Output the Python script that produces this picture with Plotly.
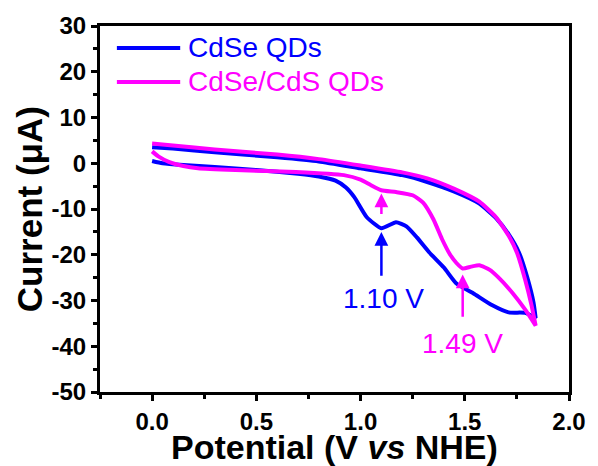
import plotly.graph_objects as go

# ---- data ----
cdse_fwd_v = [0.00, 0.05, 0.15, 0.30, 0.50, 0.70, 0.80, 0.88, 0.93, 0.97, 1.03, 1.10, 1.17, 1.22, 1.27, 1.33, 1.40, 1.46, 1.54, 1.63, 1.71, 1.79, 1.84]
cdse_fwd_i = [0.5, 0.0, -0.4, -0.8, -1.5, -2.3, -2.9, -3.8, -5.3, -7.4, -11.8, -14.2, -12.9, -13.8, -16.2, -19.5, -22.8, -26.3, -28.4, -31.0, -32.6, -32.7, -33.8]
cdse_rev_v = [1.84, 1.83, 1.80, 1.76, 1.71, 1.65, 1.57, 1.45, 1.32, 1.20, 1.00, 0.80, 0.60, 0.30, 0.10, 0.00]
cdse_rev_i = [-33.8, -30.5, -25.0, -19.5, -15.5, -12.0, -8.8, -6.2, -4.1, -2.6, -1.1, 0.4, 1.3, 2.4, 3.2, 3.5]

cdscds_fwd_v = [0.00, 0.03, 0.08, 0.15, 0.22, 0.40, 0.69, 0.92, 1.00, 1.05, 1.10, 1.17, 1.25, 1.30, 1.35, 1.39, 1.43, 1.46, 1.49, 1.53, 1.57, 1.62, 1.66, 1.73, 1.79, 1.84]
cdscds_fwd_i = [2.6, 1.5, 0.3, -0.6, -1.1, -1.5, -1.9, -2.6, -3.6, -4.8, -5.9, -6.3, -7.0, -8.6, -12.3, -16.5, -20.0, -21.8, -23.0, -22.6, -22.3, -23.3, -24.9, -28.4, -32.0, -35.5]
cdscds_rev_v = [1.84, 1.82, 1.79, 1.75, 1.71, 1.65, 1.57, 1.45, 1.32, 1.20, 1.00, 0.80, 0.60, 0.30, 0.10, 0.00]
cdscds_rev_i = [-35.5, -31.0, -25.5, -19.5, -15.8, -11.8, -8.4, -5.6, -3.3, -2.0, -0.5, 0.9, 1.9, 3.0, 3.9, 4.3]

series_names = ["CdSe QDs", "CdSe/CdS QDs"]
series_colors = ["#0000FF", "#FF00FF"]

peak_labels = ["1.10 V", "1.49 V"]
x_ticks = [0.0, 0.5, 1.0, 1.5, 2.0]
y_ticks = [-50, -40, -30, -20, -10, 0, 10, 20, 30]

FONT = "Liberation Sans, Arial, sans-serif"

fig = go.Figure()
fig.add_trace(go.Scatter(
    x=cdse_fwd_v + cdse_rev_v, y=cdse_fwd_i + cdse_rev_i,
    mode="lines", line=dict(color=series_colors[0], width=4, shape="spline", smoothing=0.5),
    name=series_names[0], showlegend=False))
fig.add_trace(go.Scatter(
    x=cdscds_fwd_v + cdscds_rev_v, y=cdscds_fwd_i + cdscds_rev_i,
    mode="lines", line=dict(color=series_colors[1], width=4, shape="spline", smoothing=0.5),
    name=series_names[1], showlegend=False))

# legend drawn manually (long line samples, coloured text)
legend_rows_y = [0.940, 0.847]
for name, col, ly in zip(series_names, series_colors, legend_rows_y):
    fig.add_shape(type="line", xref="paper", yref="paper", x0=0.036, x1=0.171, y0=ly, y1=ly,
                  line=dict(color=col, width=4))
    fig.add_annotation(x=0.184, y=ly, xref="paper", yref="paper", xanchor="left", yanchor="middle",
                       text=name, showarrow=False,
                       font=dict(family=FONT, size=28, color=col))

# arrows
arrows = [
    (1.10, -15.0, -24.9, series_colors[0]),
    (1.10, -6.6, -11.4, series_colors[1]),
    (1.49, -24.3, -33.9, series_colors[1]),
]
for xv, tip, tail, col in arrows:
    fig.add_annotation(x=xv, y=tip, ax=xv, ay=tail, xref="x", yref="y", axref="x", ayref="y",
                       text="", showarrow=True, arrowhead=2, arrowsize=1.1, arrowwidth=2.5,
                       arrowcolor=col)

fig.add_annotation(x=1.11, y=-29.6, text=peak_labels[0], showarrow=False,
                   xanchor="center", yanchor="middle",
                   font=dict(family=FONT, size=28, color=series_colors[0]))
fig.add_annotation(x=1.49, y=-39.3, text=peak_labels[1], showarrow=False,
                   xanchor="center", yanchor="middle",
                   font=dict(family=FONT, size=28, color=series_colors[1]))

# axis titles
fig.add_annotation(x=-0.151, y=0.5, xref="paper", yref="paper", text="<b>Current (μA)</b>",
                   textangle=-90, showarrow=False, xanchor="center", yanchor="middle",
                   font=dict(family=FONT, size=35, color="black"))
fig.add_annotation(x=0.5, y=-0.150, xref="paper", yref="paper",
                   text="<b>Potential (V <i>vs</i> NHE)</b>", showarrow=False,
                   xanchor="center", yanchor="middle", borderpad=0,
                   font=dict(family=FONT, size=34, color="black"))

axis_common = dict(showline=True, linecolor="black", linewidth=3, mirror=True,
                   ticks="outside", ticklen=6, tickwidth=3, tickcolor="black",
                   showgrid=False, zeroline=False,
                   tickfont=dict(family=FONT, size=24, color="black"))

fig.update_xaxes(range=[-0.25, 2.0], tickvals=x_ticks,
                 ticktext=[f"<b>{v:.1f}</b>" for v in x_ticks],
                 minor=dict(dtick=0.25, ticks="outside", ticklen=4, tickwidth=3, tickcolor="black", showgrid=False),
                 **axis_common)
fig.update_yaxes(range=[-50, 30], tickvals=y_ticks,
                 ticktext=[f"<b>{v}</b>" for v in y_ticks],
                 minor=dict(dtick=5, ticks="outside", ticklen=4, tickwidth=3, tickcolor="black", showgrid=False),
                 **axis_common)

fig.update_layout(
    width=598, height=466,
    margin=dict(l=100, r=20, t=26, b=74),
    plot_bgcolor="white", paper_bgcolor="white",
    showlegend=False,
)

fig.write_html("out.html")
